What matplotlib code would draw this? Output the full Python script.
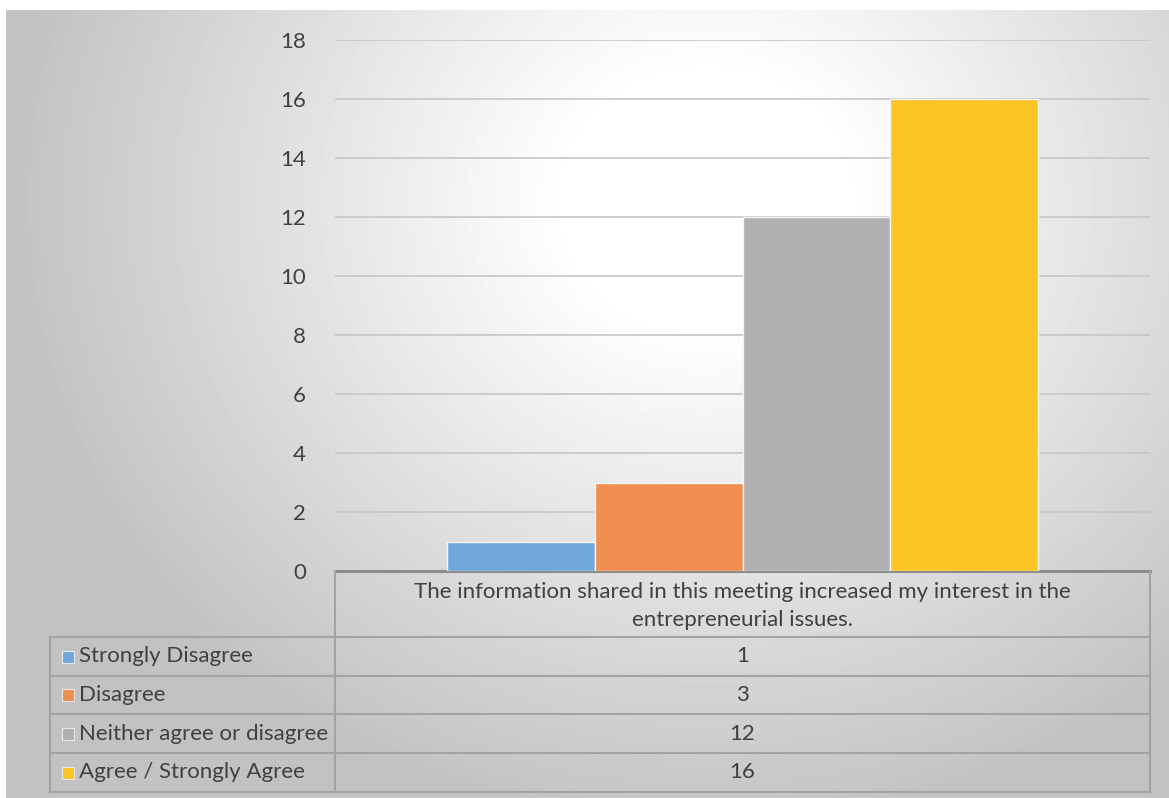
import numpy as np
import matplotlib.pyplot as plt

# data
series = ["Strongly Disagree", "Disagree", "Neither agree or disagree", "Agree / Strongly Agree"]
values = [1, 3, 12, 16]
colors = ["#70a8db", "#ef8e4f", "#b0b0b0", "#fbc526"]
category = "The information shared in this meeting increased my interest in the\nentrepreneurial issues."
yticks = [0, 2, 4, 6, 8, 10, 12, 14, 16, 18]

W, H = 1169, 798
plt.rcParams['font.family'] = ['Lato', 'DejaVu Sans']
fig = plt.figure(figsize=(W / 100, H / 100), dpi=100)
fig.patch.set_facecolor("white")

# background: radial gradient like the Excel chart area
bg = fig.add_axes([6 / W, 0, (W - 6) / W, (H - 10) / H])
yy, xx = np.mgrid[0:H - 10, 0:W - 6]
d = np.sqrt((xx - 700) ** 2 + ((yy - 190) * 1.1) ** 2) / 700
shade = np.clip(1.06 - 0.3 * d, 0.76, 1.0)
bg.imshow(shade, cmap="gray", vmin=0, vmax=1, aspect="auto", interpolation="bilinear")
bg.axis("off")

# main plot area
x0, x1, ytop, ybot = 335, 1150, 40, 571
ax = fig.add_axes([x0 / W, (H - ybot) / H, (x1 - x0) / W, (ybot - ytop) / H])
ax.patch.set_alpha(0)
pos = np.arange(len(values))
ax.bar(pos, values, width=1.0, color=colors, edgecolor="#f4f4f4", linewidth=1, zorder=3)
ax.set_xlim(-0.5 - 0.76, len(values) - 0.5 + 0.76)
ax.set_ylim(0, 18)
ax.set_yticks(yticks)
ax.set_xticks([])
ax.grid(axis="y", color="#c6c6c6", linewidth=1.2, zorder=0)
for s in ["top", "right", "left"]:
    ax.spines[s].set_visible(False)
ax.spines["bottom"].set_color("#8c8c8c")
ax.spines["bottom"].set_linewidth(2.2)
ax.tick_params(axis="y", length=0, pad=21, labelsize=16, labelcolor="#404040")

# data table drawn in pixel coordinates
ov = fig.add_axes([0, 0, 1, 1])
ov.set_xlim(0, W)
ov.set_ylim(H, 0)
ov.axis("off")
lc = "#a3a3a3"
rows = [637, 676, 714, 753, 792]
xl = 50
ov.plot([x0, x0], [ybot, rows[-1]], color=lc, lw=1.5)
ov.plot([x1, x1], [ybot, rows[-1]], color=lc, lw=1.5)
ov.plot([xl, xl], [rows[0], rows[-1]], color=lc, lw=1.5)
for r in rows:
    ov.plot([xl, x1], [r, r], color=lc, lw=1.5)
xc = (x0 + x1) / 2
ov.text(xc, (ybot + rows[0]) / 2 + 2, category, ha="center", va="center",
        fontsize=16, color="#404040", linespacing=1.45)
for i, (name, v, c) in enumerate(zip(series, values, colors)):
    yc = (rows[i] + rows[i + 1]) / 2
    ov.add_patch(plt.Rectangle((62, yc - 6), 12, 12, facecolor=c, edgecolor="#e8e8e8", lw=0.8))
    ov.text(79, yc, name, ha="left", va="center", fontsize=16, color="#404040")
    ov.text(xc, yc, str(v), ha="center", va="center", fontsize=16, color="#404040")

fig.savefig("out.png", dpi=100)
